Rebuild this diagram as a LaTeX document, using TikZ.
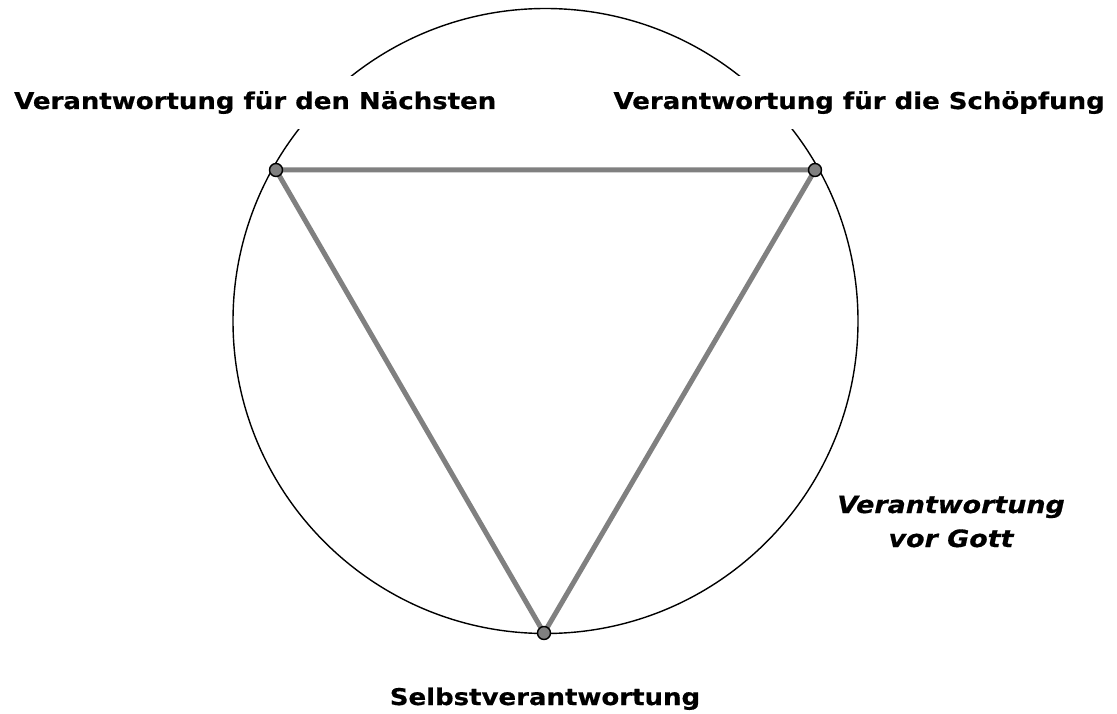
\documentclass[tikz,border=0pt]{standalone}
\usepackage{fontspec}
\setmainfont{DejaVu Sans}[FakeStretch=1.13, BoldFeatures={FakeBold=0.6}, BoldItalicFeatures={FakeBold=0.6}]
\definecolor{edgegray}{HTML}{808080}
\begin{document}
\begin{tikzpicture}[x=1pt,y=-1pt,
  lbl/.style={font=\fontsize{23}{33}\selectfont\bfseries, inner xsep=2pt, inner ysep=0pt},
  ring/.style={draw=black, line width=1.4pt, circle, inner sep=0pt, minimum size=625pt},
  edge/.style={draw=edgegray, line width=5pt},
  vdot/.style={circle, draw=black, line width=1.4pt, fill=edgegray, inner sep=0pt, minimum size=13pt}]
\useasboundingbox (0,0) rectangle (1117,714);
\node[ring] (ring) at (545.5,321) {};
\coordinate (A) at (276,170);
\coordinate (B) at (815,170);
\coordinate (C) at (544,633);
\draw[edge] (A) -- (B) -- (C) -- cycle;
\node[vdot] (dA) at (A) {};
\node[vdot] (dB) at (B) {};
\node[vdot] (dC) at (C) {};
\node[lbl, fill=white, inner ysep=15pt, anchor=base west] (left) at (12,109) {Verantwortung für den Nächsten};
\node[lbl, fill=white, inner ysep=15pt, anchor=base east] (right) at (1107,109) {Verantwortung für die Schöpfung};
\node[lbl, anchor=base] (bottom) at (545,705) {Selbstverantwortung};
\node[lbl, font=\fontsize{23.8}{34}\selectfont\bfseries\itshape, align=center, anchor=base] (god) at (951,547) {Verantwortung\\vor Gott};
\end{tikzpicture}
\end{document}
